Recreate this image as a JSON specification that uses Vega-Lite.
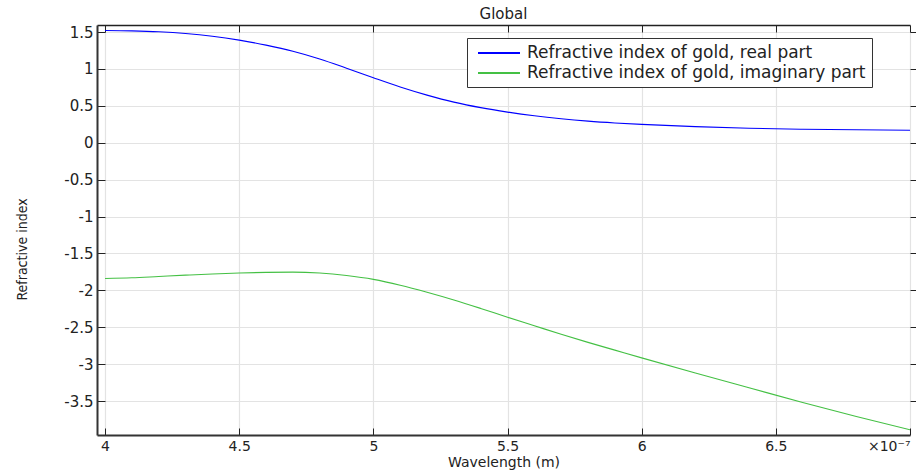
{
  "$schema": "https://vega.github.io/schema/vega-lite/v6.json",
  "width": 813,
  "height": 410,
  "autosize": {"type": "none"},
  "padding": {"left": 97, "top": 25, "right": 6, "bottom": 36},
  "background": "white",
  "title": {"text": "Global", "fontSize": 15, "font": "DejaVu Sans", "fontWeight": "normal", "color": "#222", "offset": 3, "anchor": "middle"},
  "config": {
    "font": "DejaVu Sans",
    "view": {"stroke": null},
    "axis": {"labelFont": "DejaVu Sans", "labelFontSize": 15, "labelColor": "#222", "gridColor": "#e3e3e3", "gridWidth": 1.2, "tickColor": "#222", "domainColor": "#333"}
  },
  "data": {"values": [
    {"w": 4.0e-7, "v": 1.52, "s": "Refractive index of gold, real part"},
    {"w": 4.1e-7, "v": 1.515, "s": "Refractive index of gold, real part"},
    {"w": 4.2e-7, "v": 1.503, "s": "Refractive index of gold, real part"},
    {"w": 4.3e-7, "v": 1.48, "s": "Refractive index of gold, real part"},
    {"w": 4.4e-7, "v": 1.443, "s": "Refractive index of gold, real part"},
    {"w": 4.5e-7, "v": 1.39, "s": "Refractive index of gold, real part"},
    {"w": 4.6e-7, "v": 1.322, "s": "Refractive index of gold, real part"},
    {"w": 4.7e-7, "v": 1.24, "s": "Refractive index of gold, real part"},
    {"w": 4.8e-7, "v": 1.135, "s": "Refractive index of gold, real part"},
    {"w": 4.9e-7, "v": 1.01, "s": "Refractive index of gold, real part"},
    {"w": 5.0e-7, "v": 0.88, "s": "Refractive index of gold, real part"},
    {"w": 5.1e-7, "v": 0.755, "s": "Refractive index of gold, real part"},
    {"w": 5.2e-7, "v": 0.645, "s": "Refractive index of gold, real part"},
    {"w": 5.3e-7, "v": 0.55, "s": "Refractive index of gold, real part"},
    {"w": 5.4e-7, "v": 0.475, "s": "Refractive index of gold, real part"},
    {"w": 5.5e-7, "v": 0.415, "s": "Refractive index of gold, real part"},
    {"w": 5.6e-7, "v": 0.365, "s": "Refractive index of gold, real part"},
    {"w": 5.7e-7, "v": 0.325, "s": "Refractive index of gold, real part"},
    {"w": 5.8e-7, "v": 0.293, "s": "Refractive index of gold, real part"},
    {"w": 5.9e-7, "v": 0.268, "s": "Refractive index of gold, real part"},
    {"w": 6.0e-7, "v": 0.248, "s": "Refractive index of gold, real part"},
    {"w": 6.2e-7, "v": 0.218, "s": "Refractive index of gold, real part"},
    {"w": 6.4e-7, "v": 0.197, "s": "Refractive index of gold, real part"},
    {"w": 6.6e-7, "v": 0.183, "s": "Refractive index of gold, real part"},
    {"w": 6.8e-7, "v": 0.175, "s": "Refractive index of gold, real part"},
    {"w": 7.0e-7, "v": 0.17, "s": "Refractive index of gold, real part"},
    {"w": 4.0e-7, "v": -1.84, "s": "Refractive index of gold, imaginary part"},
    {"w": 4.1e-7, "v": -1.83, "s": "Refractive index of gold, imaginary part"},
    {"w": 4.2e-7, "v": -1.812, "s": "Refractive index of gold, imaginary part"},
    {"w": 4.3e-7, "v": -1.794, "s": "Refractive index of gold, imaginary part"},
    {"w": 4.4e-7, "v": -1.778, "s": "Refractive index of gold, imaginary part"},
    {"w": 4.5e-7, "v": -1.765, "s": "Refractive index of gold, imaginary part"},
    {"w": 4.6e-7, "v": -1.756, "s": "Refractive index of gold, imaginary part"},
    {"w": 4.7e-7, "v": -1.753, "s": "Refractive index of gold, imaginary part"},
    {"w": 4.8e-7, "v": -1.766, "s": "Refractive index of gold, imaginary part"},
    {"w": 4.9e-7, "v": -1.80, "s": "Refractive index of gold, imaginary part"},
    {"w": 5.0e-7, "v": -1.852, "s": "Refractive index of gold, imaginary part"},
    {"w": 5.1e-7, "v": -1.93, "s": "Refractive index of gold, imaginary part"},
    {"w": 5.2e-7, "v": -2.025, "s": "Refractive index of gold, imaginary part"},
    {"w": 5.3e-7, "v": -2.13, "s": "Refractive index of gold, imaginary part"},
    {"w": 5.4e-7, "v": -2.245, "s": "Refractive index of gold, imaginary part"},
    {"w": 5.5e-7, "v": -2.365, "s": "Refractive index of gold, imaginary part"},
    {"w": 5.6e-7, "v": -2.48, "s": "Refractive index of gold, imaginary part"},
    {"w": 5.7e-7, "v": -2.595, "s": "Refractive index of gold, imaginary part"},
    {"w": 5.8e-7, "v": -2.705, "s": "Refractive index of gold, imaginary part"},
    {"w": 5.9e-7, "v": -2.81, "s": "Refractive index of gold, imaginary part"},
    {"w": 6.0e-7, "v": -2.915, "s": "Refractive index of gold, imaginary part"},
    {"w": 6.2e-7, "v": -3.12, "s": "Refractive index of gold, imaginary part"},
    {"w": 6.4e-7, "v": -3.32, "s": "Refractive index of gold, imaginary part"},
    {"w": 6.6e-7, "v": -3.52, "s": "Refractive index of gold, imaginary part"},
    {"w": 6.8e-7, "v": -3.71, "s": "Refractive index of gold, imaginary part"},
    {"w": 7.0e-7, "v": -3.89, "s": "Refractive index of gold, imaginary part"}
  ]},
  "layer": [
    {
      "mark": {"type": "line", "strokeWidth": 1.1, "interpolate": "monotone", "clip": true},
      "encoding": {
        "x": {"field": "w", "type": "quantitative",
          "scale": {"domain": [3.97e-7, 7.0e-7], "nice": false, "zero": false},
          "axis": {"orient": "bottom", "values": [4e-7, 4.5e-7, 5e-7, 5.5e-7, 6e-7, 6.5e-7, 7e-7],
            "labelExpr": "datum.value > 6.9e-7 ? '×10⁻⁷' : format(datum.value * 1e7, '~g')",
            "labelAlign": {"condition": {"test": "datum.value > 6.9e-7", "value": "right"}, "value": "center"},
            "labelBound": false, "labelOverlap": false, "labelFlush": false, "labelFontSize": 14,
            "tickSize": -7, "labelPadding": 11, "domainWidth": 2, "domainColor": "#333",
            "title": "Wavelength (m)", "titleFont": "DejaVu Sans", "titleFontSize": 14, "titleFontWeight": "normal", "titleColor": "#222", "titlePadding": 2}},
        "y": {"field": "v", "type": "quantitative",
          "scale": {"domain": [-3.96, 1.595], "nice": false, "zero": false},
          "axis": {"orient": "left", "values": [-3.5, -3, -2.5, -2, -1.5, -1, -0.5, 0, 0.5, 1, 1.5],
            "labelExpr": "replace(format(datum.value, '~g'), '−', '-')",
            "tickSize": -8, "labelPadding": 12, "domainWidth": 2, "domainColor": "#333",
            "title": "Refractive index", "titleFont": "Liberation Sans Narrow, DejaVu Sans Condensed", "titleFontSize": 14, "titleFontWeight": "normal", "titleColor": "#222", "titlePadding": 34, "titleY": 224}},
        "color": {"field": "s", "type": "nominal",
          "scale": {"domain": ["Refractive index of gold, real part", "Refractive index of gold, imaginary part"], "range": ["#0000ff", "#44c044"]},
          "legend": {"orient": "none", "legendX": 370, "legendY": 13, "title": null,
            "strokeColor": "#333", "fillColor": "white", "padding": 6,
            "symbolType": "M-0.5,0H4.75", "symbolSize": 256, "symbolStrokeWidth": 2,
            "labelFont": "DejaVu Sans", "labelFontSize": 17, "labelColor": "#222", "rowPadding": 3, "labelOffset": 36, "labelLimit": 600}}
      }
    },
    {
      "mark": {"type": "rule", "opacity": 0},
      "encoding": {
        "x": {"field": "w", "type": "quantitative",
          "axis": {"orient": "top", "values": [4e-7, 4.5e-7, 5e-7, 5.5e-7, 6e-7, 6.5e-7, 7e-7], "labels": false, "grid": false, "tickSize": -7, "domainWidth": 1.5, "domainColor": "#222", "title": null}},
        "y": {"field": "v", "type": "quantitative",
          "axis": {"orient": "right", "values": [-3.5, -3, -2.5, -2, -1.5, -1, -0.5, 0, 0.5, 1, 1.5], "labels": false, "grid": false, "domain": false, "tickSize": 7, "title": null}}
      }
    }
  ]
}
